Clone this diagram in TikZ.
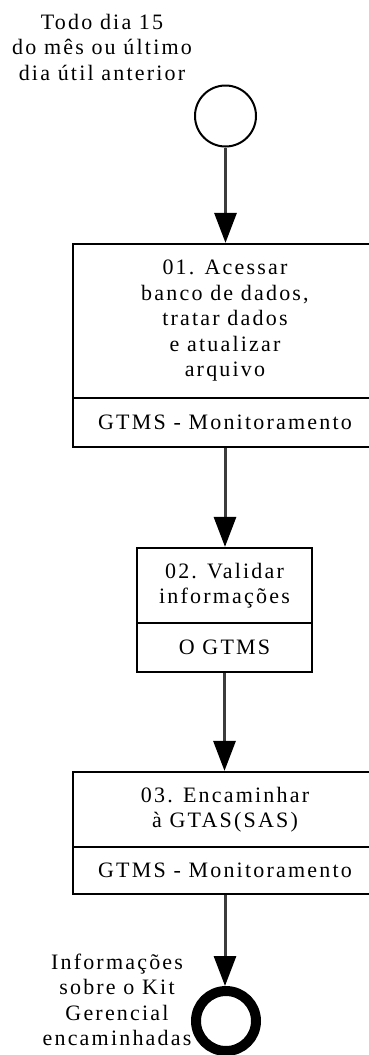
\documentclass[tikz,border=0pt]{standalone}
\usepackage{fontspec}
\newfontfamily\diagfont[LetterSpace=10]{Liberation Serif}
\usetikzlibrary{arrows.meta}
\definecolor{linegray}{RGB}{60,60,60}
\tikzset{
  diagtext/.style={font=\diagfont\fontsize{22}{25.5}\selectfont, align=center, text=black},
  taskbox/.style={draw=black, line width=2.2pt, fill=white, inner sep=0pt, diagtext},
  startev/.style={circle, draw=black, line width=2pt, minimum size=61pt, inner sep=0pt, fill=white},
  endev/.style={circle, draw=black, line width=10pt, minimum size=60pt, inner sep=0pt, fill=white},
  flow/.style={draw=linegray, line width=3pt, -{Triangle[width=22pt,length=30pt,color=black]}},
  lbl/.style={diagtext, inner sep=0pt}
}
\begin{document}
\begin{tikzpicture}[x=1pt,y=-1pt]
\clip (0,0) rectangle (369,1055);
\fill[white] (0,0) rectangle (369,1055);
% start event
\node[startev] (start) at (225.5,116) {};
\node[lbl] (startlbl) at (102,47) {Todo dia 15\\do mês ou último\\dia útil anterior};
% task 1
\node[taskbox, minimum width=304pt, minimum height=154pt] (t1) at (225,321) {01. Acessar\\banco de dados,\\tratar dados\\e atualizar\\arquivo};
\node[taskbox, minimum width=304pt, minimum height=49pt] (r1) at (225,422.5) {GTMS - Monitoramento};
% task 2
\node[taskbox, minimum width=175pt, minimum height=75pt] (t2) at (224.5,585.5) {02. Validar\\informações};
\node[taskbox, minimum width=175pt, minimum height=49pt] (r2) at (224.5,647.5) {O GTMS};
% task 3
\node[taskbox, minimum width=304pt, minimum height=75pt] (t3) at (225,809.5) {03. Encaminhar\\à GTAS(SAS)};
\node[taskbox, minimum width=304pt, minimum height=47pt] (r3) at (225,870.5) {GTMS - Monitoramento};
% end event
\node[endev] (end) at (226,1021) {};
\node[lbl] (endlbl) at (117,1000) {Informações\\sobre o Kit\\Gerencial\\encaminhadas};
% flows
\draw[flow] (start.south) -- (t1.north -| start.south);
\draw[flow] (r1.south) -- (t2.north -| r1.south);
\draw[flow] (r2.south) -- (t3.north -| r2.south);
\draw[flow] (r3.south) -- (end.north -| r3.south);
\end{tikzpicture}
\end{document}
